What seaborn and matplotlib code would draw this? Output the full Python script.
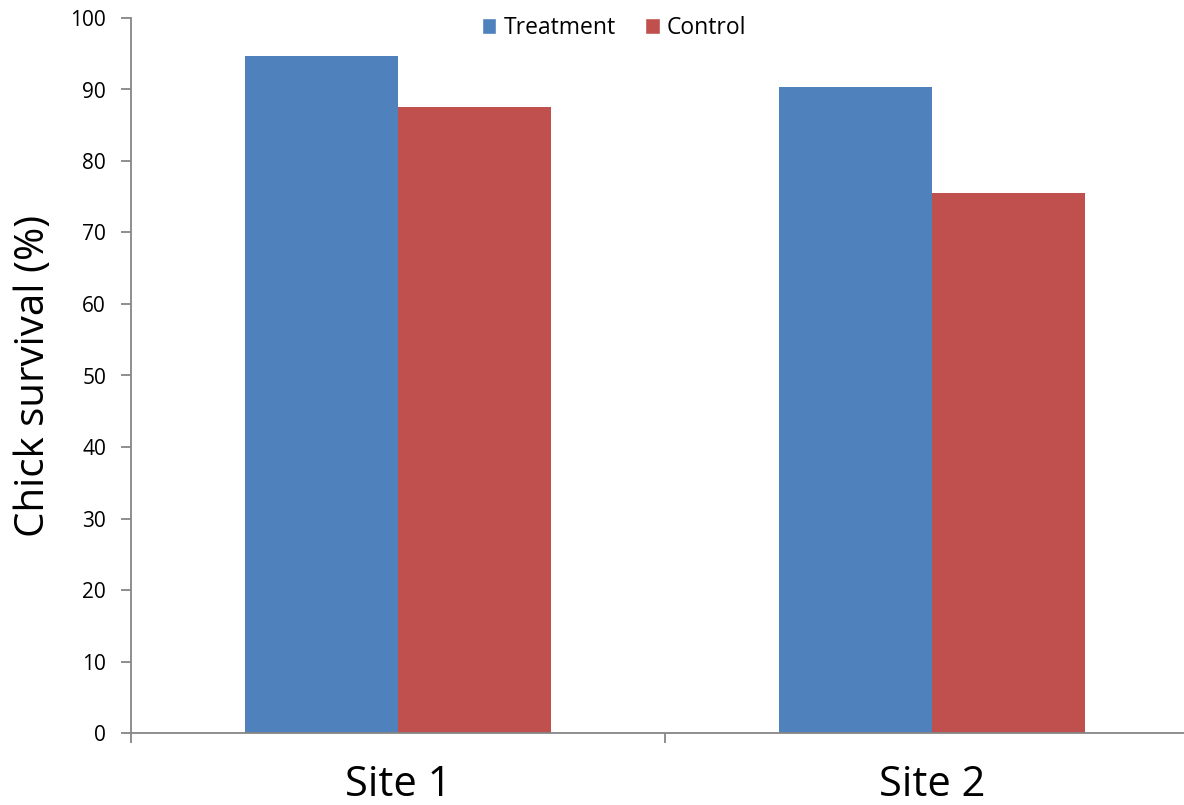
import matplotlib
matplotlib.use("Agg")
import matplotlib.pyplot as plt
import seaborn as sns
import pandas as pd
from matplotlib.patches import Patch

sites = ["Site 1", "Site 2"]
treatment = [94.7, 90.3]
control = [87.5, 75.5]
groups = ["Treatment", "Control"]
colors = ["#4F81BD", "#C0504D"]
yticks = [0, 10, 20, 30, 40, 50, 60, 70, 80, 90, 100]

df = pd.DataFrame({
    "site": sites * 2,
    "group": [groups[0]] * len(sites) + [groups[1]] * len(sites),
    "survival": treatment + control,
})

sns.set_style("white")
plt.rcParams["font.family"] = ["Open Sans", "DejaVu Sans"]
plt.rcParams["text.color"] = "black"
plt.rcParams["axes.labelcolor"] = "black"
plt.rcParams["xtick.color"] = "black"
plt.rcParams["ytick.color"] = "black"

fig = plt.figure(figsize=(11.84, 8.05), dpi=100)
ax = fig.add_axes([131 / 1184, 1 - 733 / 805, 1068 / 1184, 715 / 805])

sns.barplot(data=df, x="site", y="survival", hue="group", palette=colors,
            width=0.573, saturation=1, ax=ax, legend=False, edgecolor="none")

ax.set_ylim(0, 100)
ax.set_xlim(-0.5, 1.5)
ax.set_yticks(yticks)
axis_color = "#868686"
for side in ["top", "right"]:
    ax.spines[side].set_visible(False)
for side in ["left", "bottom"]:
    ax.spines[side].set_color(axis_color)
    ax.spines[side].set_linewidth(1.3)
ax.tick_params(axis="y", direction="out", length=7, width=1.3, color=axis_color,
               labelcolor="black", labelsize=15, pad=11, left=True)
ax.set_xticks([-0.5, 0.5, 1.5], minor=True)
ax.tick_params(axis="x", which="minor", direction="out", length=7, width=1.3,
               color=axis_color, bottom=True)
ax.tick_params(axis="x", which="major", length=0, labelsize=30, labelcolor="black",
               pad=22)
ax.set_xlabel("")
ax.set_ylabel("Chick survival (%)", fontsize=29, labelpad=12, color="black")

handles = [Patch(facecolor=c, label=g) for c, g in zip(colors, groups)]
fig.legend(handles=handles, loc="center", bbox_to_anchor=(614 / 1184, 1 - 28 / 805),
           ncol=2, frameon=False, fontsize=16.5, handlelength=0.65, handleheight=0.65,
           handletextpad=0.3, columnspacing=1.3)

fig.savefig("out.png", dpi=100)
